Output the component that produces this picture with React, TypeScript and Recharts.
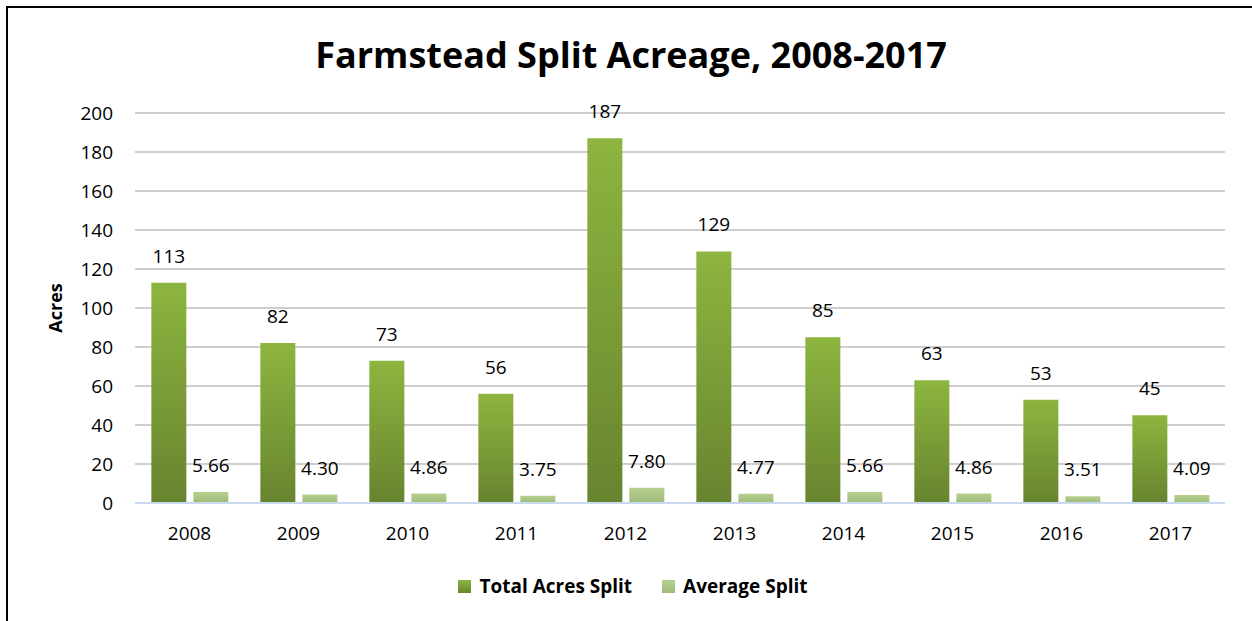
import { Bar, BarChart, CartesianGrid, LabelList, XAxis, YAxis } from "recharts";

const years = ["2008", "2009", "2010", "2011", "2012", "2013", "2014", "2015", "2016", "2017"];
const totalAcres = [113, 82, 73, 56, 187, 129, 85, 63, 53, 45];
const averageSplit = [5.66, 4.3, 4.86, 3.75, 7.8, 4.77, 5.66, 4.86, 3.51, 4.09];
const yTicks = [0, 20, 40, 60, 80, 100, 120, 140, 160, 180, 200];

const FONT = "'Open Sans', 'Noto Sans', sans-serif";

const data = years.map((year, i) => ({
	year,
	total: totalAcres[i],
	avg: averageSplit[i],
}));

const makeLabel = (fmt: (v: number) => string) => (props: any) => {
	const { x, y, width, value } = props;
	return (
		<text
			x={Number(x) + Number(width) / 2}
			y={Number(y) - 20}
			textAnchor="middle"
			fontSize={19}
			fontFamily={FONT}
			fill="#000"
		>
			{fmt(Number(value))}
		</text>
	);
};

export default function App() {
	return (
		<div
			style={{
				position: "absolute",
				left: 0,
				top: 0,
				width: 1252,
				height: 621,
				background: "#fff",
				overflow: "hidden",
				fontFamily: FONT,
			}}
		>
			<div
				style={{
					position: "absolute",
					left: 6,
					top: 6,
					width: 1300,
					height: 700,
					borderLeft: "2px solid #000",
					borderTop: "2px solid #000",
				}}
			/>
			<div
				style={{
					position: "absolute",
					left: 0,
					width: 1262,
					top: 30,
					textAlign: "center",
					fontSize: 36,
					fontWeight: 700,
					color: "#000",
				}}
			>
				Farmstead Split Acreage, 2008-2017
			</div>
			<div style={{ position: "absolute", left: 0, top: 0 }}>
				<BarChart
					width={1252}
					height={621}
					data={data}
					margin={{ top: 113, right: 27, bottom: 78, left: 75 }}
					barGap={7}
					barCategoryGap="15%"
				>
					<defs>
						<linearGradient id="gTotal" x1="0" y1="0" x2="0" y2="1">
							<stop offset="0%" stopColor="#8db53f" />
							<stop offset="100%" stopColor="#67842f" />
						</linearGradient>
						<linearGradient id="gAvg" x1="0" y1="0" x2="0" y2="1">
							<stop offset="0%" stopColor="#b6d18d" />
							<stop offset="100%" stopColor="#9fb97a" />
						</linearGradient>
					</defs>
					<CartesianGrid vertical={false} stroke="#bfbfbf" strokeWidth={1.5} />
					<XAxis
						dataKey="year"
						height={40}
						tickLine={false}
						axisLine={{ stroke: "#c9d9ee", strokeWidth: 2 }}
						tick={{ fill: "#000", fontSize: 19, fontFamily: FONT }}
						tickMargin={18}
					/>
					<YAxis
						width={60}
						domain={[0, 200]}
						ticks={yTicks}
						axisLine={false}
						tickLine={false}
						tick={{ fill: "#000", fontSize: 19, fontFamily: FONT }}
						tickMargin={16}
						label={{
							value: "Acres",
							angle: -90,
							position: "insideLeft",
							offset: -19,
							style: { fontSize: 18, fontWeight: 700, fontFamily: FONT, fill: "#000", textAnchor: "middle" },
						}}
					/>
					<Bar dataKey="total" fill="url(#gTotal)" isAnimationActive={false}>
						<LabelList dataKey="total" content={makeLabel((v) => String(v))} />
					</Bar>
					<Bar dataKey="avg" fill="url(#gAvg)" isAnimationActive={false}>
						<LabelList dataKey="avg" content={makeLabel((v) => v.toFixed(2))} />
					</Bar>
				</BarChart>
			</div>
			<div
				style={{
					position: "absolute",
					top: 573,
					left: 0,
					width: 1266,
					display: "flex",
					justifyContent: "center",
					gap: 30,
					fontSize: 19,
					fontWeight: 700,
					color: "#000",
				}}
			>
				<div style={{ display: "flex", alignItems: "center", gap: 8 }}>
					<span
						style={{
							width: 13,
							height: 13,
							background: "linear-gradient(#8db53f, #67842f)",
						}}
					/>
					<span>Total Acres Split</span>
				</div>
				<div style={{ display: "flex", alignItems: "center", gap: 8 }}>
					<span
						style={{
							width: 13,
							height: 13,
							background: "linear-gradient(#b6d18d, #9fb97a)",
						}}
					/>
					<span>Average Split</span>
				</div>
			</div>
		</div>
	);
}
